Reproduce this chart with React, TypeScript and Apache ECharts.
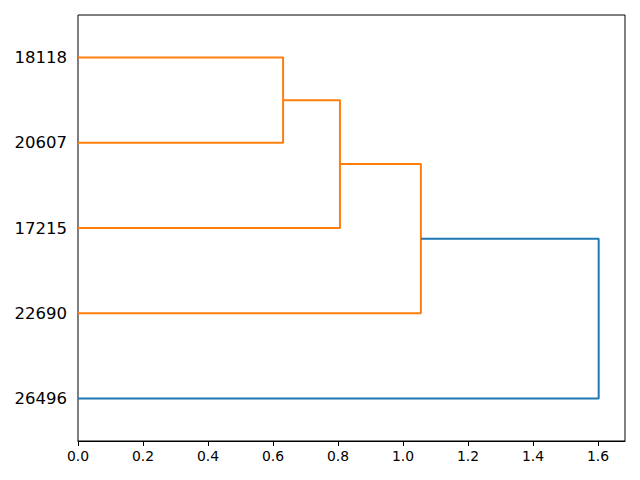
import React, { useEffect, useRef } from "react";
import * as echarts from "echarts";

// Leaves in display order, bottom to top
const leafLabels = ["26496", "22690", "17215", "20607", "18118"];
// Linkage: childA, childB, distance, color; clusters named c5, c6, ...
const linkA = ["18118", "c5", "c6", "c7"];
const linkB = ["20607", "17215", "22690", "26496"];
const linkDist = [0.631, 0.806, 1.055, 1.602];
const linkColor = ["#ff7f0e", "#ff7f0e", "#ff7f0e", "#1f77b4"];
const xTicks = [0, 0.2, 0.4, 0.6, 0.8, 1.0, 1.2, 1.4, 1.6];

export default function App() {
  const ref = useRef<HTMLDivElement>(null);
  useEffect(() => {
    if (!ref.current) return;
    const chart = echarts.init(ref.current, undefined, { renderer: "svg" });
    const pos: Record<string, { y: number; d: number }> = {};
    leafLabels.forEach((l, i) => {
      pos[l] = { y: 5 + 10 * i, d: 0 };
    });
    const series: any[] = [];
    linkA.forEach((a, i) => {
      const b = linkB[i];
      const d = linkDist[i];
      const pa = pos[a];
      const pb = pos[b];
      series.push({
        type: "line",
        xAxisIndex: 0,
        yAxisIndex: 1,
        symbol: "none",
        silent: true,
        lineStyle: { color: linkColor[i], width: 2 },
        data: [
          [pa.d, pa.y],
          [d, pa.y],
          [d, pb.y],
          [pb.d, pb.y],
        ],
      });
      pos["c" + (i + 5)] = { y: (pa.y + pb.y) / 2, d };
    });
    chart.setOption({
      animation: false,
      textStyle: { fontFamily: "DejaVu Sans" },
      grid: {
        left: 78,
        right: 15,
        top: 15,
        bottom: 39,
        show: true,
        borderColor: "#000",
        borderWidth: 1,
        backgroundColor: "transparent",
      },
      xAxis: [
        {
          type: "value",
          min: 0,
          max: 1.683,
          interval: 0.2,
          axisLine: { show: true, onZero: false, lineStyle: { color: "#000", width: 1 } },
          axisTick: { show: true, length: 5, lineStyle: { color: "#000" } },
          splitLine: { show: false },
          axisLabel: {
            color: "#000",
            fontSize: 13.9,
            margin: 8,
            showMaxLabel: false,
            formatter: (v: number) => (xTicks.some((t) => Math.abs(t - v) < 1e-6) ? v.toFixed(1) : ""),
          },
        },
      ],
      yAxis: [
        {
          type: "category",
          data: leafLabels,
          boundaryGap: true,
          axisLine: { show: false },
          axisTick: { show: false },
          splitLine: { show: false },
          axisLabel: { color: "#000", fontSize: 16.5, margin: 11 },
        },
        {
          type: "value",
          min: 0,
          max: 50,
          show: false,
          splitLine: { show: false },
        },
      ],
      series,
    });
    return () => chart.dispose();
  }, []);
  return <div ref={ref} style={{ width: 640, height: 480, position: "fixed", left: 0, top: 0, background: "#fff" }} />;
}
